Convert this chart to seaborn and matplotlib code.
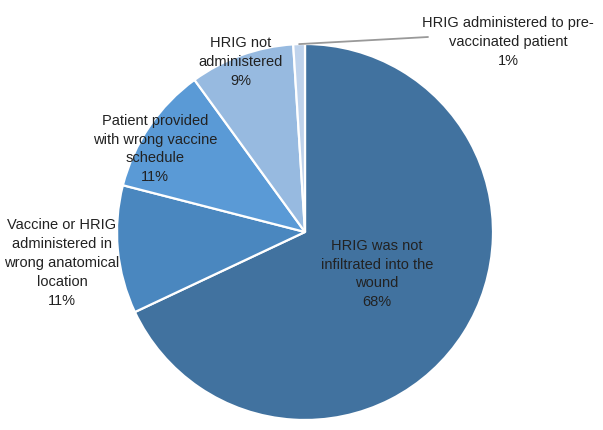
import numpy as np
import matplotlib
matplotlib.use("Agg")
import matplotlib.pyplot as plt
import seaborn as sns

# datos del gráfico
categorias = [
    "HRIG was not\ninfiltrated into the\nwound",
    "Vaccine or HRIG\nadministered in\nwrong anatomical\nlocation",
    "Patient provided\nwith wrong vaccine\nschedule",
    "HRIG not\nadministered",
    "HRIG administered to pre-\nvaccinated patient",
]
porcentajes = [68, 11, 11, 9, 1]
colores = ["#41729F", "#4A87BF", "#5A9AD6", "#97BAE0", "#BFD3EC"]

# posiciones de las etiquetas en pixeles (centro del bloque de texto)
pos_etiquetas = [(377, 274), (62, 263), (155, 149), (241, 62), (508, 42)]

sns.set_theme(style="white")
plt.rcParams["font.family"] = ["Liberation Sans Narrow", "Liberation Sans", "DejaVu Sans"]

W, H = 603, 430
CX, CY, R = 305, 232, 188


def px(x, y):
    # convierte pixeles de la imagen a coordenadas del eje
    return (x - CX) / R, (CY - y) / R


fig = plt.figure(figsize=(W / 100, H / 100), dpi=100)
ax = fig.add_axes([0, 0, 1, 1])

wedges, _ = ax.pie(
    porcentajes,
    colors=colores,
    startangle=90,
    counterclock=False,
    radius=1,
    wedgeprops=dict(edgecolor="white", linewidth=1.6),
)

for cat, pct, (x, y) in zip(categorias, porcentajes, pos_etiquetas):
    tx, ty = px(x, y)
    ax.text(tx, ty, f"{cat}\n{pct}%", ha="center", va="center",
            fontsize=10.5, color="#222222", linespacing=1.45)

# línea guía para la porción pequeña
w = wedges[-1]
ang = np.deg2rad((w.theta1 + w.theta2) / 2)
ax.annotate("", xy=(np.cos(ang) * 1.0, np.sin(ang) * 1.0), xytext=px(428, 37),
            arrowprops=dict(arrowstyle="-", color="#999999", lw=1.3,
                            shrinkA=0, shrinkB=0))

ax.set_xlim(-CX / R, (W - CX) / R)
ax.set_ylim(-(H - CY) / R, CY / R)
ax.set_aspect("auto")
ax.axis("off")

fig.savefig("out.png", dpi=100, facecolor="white")
